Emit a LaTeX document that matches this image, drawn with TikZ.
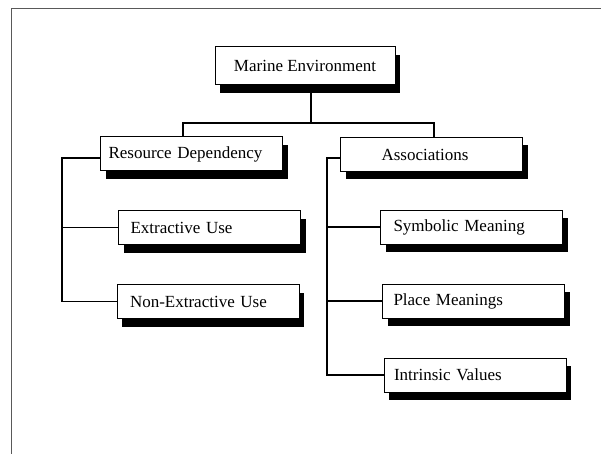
\documentclass[tikz,border=0pt]{standalone}
\usepackage{fontspec}
\setmainfont{Liberation Serif}
\usetikzlibrary{shadows}
\begin{document}
\begin{tikzpicture}[x=1pt,y=-1pt,
  box/.style={draw=black, line width=1pt, fill=white, minimum height=34pt, inner ysep=0pt,
    font=\fontsize{17}{20}\selectfont,
    drop shadow={shadow xshift=5pt, shadow yshift=-8pt, fill=black, opacity=1}},
  conn/.style={line width=1.5pt},
  frame/.style={draw=black!65, line width=1.1pt}]
\useasboundingbox (0,0) rectangle (601,454);
\draw[frame] (11.5,454) -- (11.5,8.5) -- (601,8.5);

\node[box, minimum width=180pt, minimum height=38pt, align=center] (marine) at (305,66) {Marine Environment};

\node[box, inner xsep=8pt, text width=166pt, align=left] (res) at (191.5,154) {Resource Dependency};
\node[box, inner xsep=12pt, text width=158pt, align=left] (ext) at (209.5,227.5) {Extractive Use};
\node[box, inner xsep=13pt, text width=156pt, align=left] (non) at (208,301.5) {Non-Extractive Use};

\node[box, inner xsep=41pt, text width=100pt, align=left] (assoc) at (431.5,154.5) {Associations};
\node[box, inner xsep=13pt, text width=156pt, align=left] (sym) at (471.5,227) {Symbolic Meaning};
\node[box, inner xsep=11pt, text width=160pt, align=left] (place) at (473.5,301) {Place Meanings};
\node[box, inner xsep=10pt, text width=162pt, align=left] (intr) at (475,375) {Intrinsic Values};

\coordinate (top) at (311,123);
\coordinate (lbus) at (62,158);
\coordinate (rbus) at (327,158);

\draw[conn] (marine.south -| top) -- (top);
\draw[conn] (res.north -| 183,0) -- (183,123) -- (434,123) -- (assoc.north -| 434,0);

\draw[conn] ([yshift=-4pt]res.west) -- (lbus) -- (lbus |- non.west) -- (non.west);
\draw[conn] (lbus |- ext.west) -- (ext.west);

\draw[conn] ([yshift=-3.5pt]assoc.west) -- (rbus) -- (rbus |- intr.west) -- (intr.west);
\draw[conn] (rbus |- sym.west) -- (sym.west);
\draw[conn] (rbus |- place.west) -- (place.west);
\end{tikzpicture}
\end{document}
